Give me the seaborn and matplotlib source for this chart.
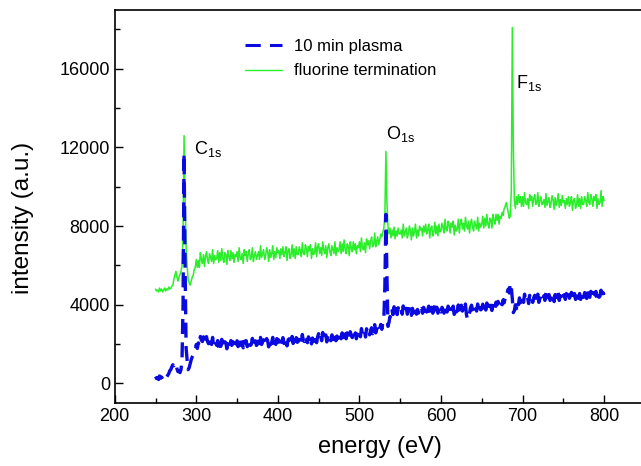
import numpy as np
import pandas as pd
import matplotlib
matplotlib.use("Agg")
import matplotlib.pyplot as plt
from matplotlib.ticker import MultipleLocator
from matplotlib.lines import Line2D
import seaborn as sns

# ---- data ----
energy = np.arange(250, 800.01, 1.25)

fluorine = [
    4800, 4700, 4750, 4650, 4850, 4700, 4800, 4650, 4750, 4850, 4700, 4800, 4750, 4900, 4800, 4850, 4950, 5000, 5300, 5500,
    5700, 5400, 5200, 5400, 5550, 5700, 6000, 7500, 12600, 9500, 7000, 6000, 5300, 5100, 5000, 5200, 5400, 5500, 5800, 5900,
    6300, 5900, 6250, 5900, 6650, 6300, 6100, 6550, 5950, 6450, 6700, 6300, 6100, 6600, 6400, 6200, 6800, 6100, 6500, 6300,
    6350, 6750, 6150, 6650, 6250, 6850, 6350, 6150, 6650, 6550, 6050, 6750, 6450, 6250, 6750, 6350, 6650, 6150, 6550, 6450,
    6700, 6200, 6900, 6400, 6300, 6600, 6100, 6800, 6500, 6700, 6200, 6600, 6800, 6300, 6400, 6900, 6200, 6500, 6700, 6300,
    6500, 6700, 6300, 7000, 6400, 6600, 6800, 6300, 6500, 6900, 6700, 6200, 6800, 6400, 6600, 7000, 6300, 6700, 6400, 6900,
    6650, 6750, 6350, 6850, 6550, 6950, 6450, 6650, 6950, 6250, 6750, 6850, 6350, 6550, 7050, 6450, 6850, 6350, 6950, 6550,
    6550, 6950, 6750, 6450, 7150, 6650, 6550, 7050, 6850, 6450, 6950, 6750, 7050, 6350, 6850, 6550, 6650, 7150, 6450, 6950,
    7100, 6600, 6900, 6500, 7200, 6800, 6600, 7000, 6400, 6900, 7100, 6700, 6500, 7000, 6800, 6600, 7200, 6500, 6900, 6700,
    6800, 7200, 6600, 7100, 6700, 7300, 6800, 6600, 7100, 7000, 6500, 7200, 6900, 6700, 7200, 6800, 7100, 6600, 7000, 6900,
    7200, 6700, 7400, 6900, 6800, 7150, 6650, 7350, 7050, 7250, 6850, 7250, 7450, 6950, 7050, 7650, 6950, 7250, 7450, 7050,
    7300, 7600, 7450, 7700, 7900, 8600, 11800, 9200, 8000, 7600, 7900, 7400, 7800, 7500, 7950, 7350, 7750, 7500, 7900, 7600,
    7600, 7800, 7400, 8100, 7500, 7700, 7900, 7400, 7600, 8000, 7800, 7300, 7900, 7500, 7700, 8100, 7400, 7800, 7500, 8000,
    7800, 7900, 7500, 8000, 7700, 8100, 7600, 7800, 8100, 7400, 7900, 8000, 7500, 7700, 8200, 7600, 8000, 7500, 8100, 7700,
    7750, 8150, 7950, 7650, 8350, 7850, 7750, 8250, 8050, 7650, 8150, 7950, 8250, 7550, 8050, 7750, 7850, 8350, 7650, 8150,
    8350, 7850, 8150, 7750, 8450, 8050, 7850, 8250, 7650, 8150, 8350, 7950, 7750, 8250, 8050, 7850, 8450, 7750, 8150, 7950,
    8100, 8500, 7900, 8400, 8000, 8600, 8100, 7900, 8400, 8300, 7900, 8600, 8300, 8100, 8600, 8300, 8600, 8100, 8500, 8400,
    8700, 8550, 8900, 9000, 9200, 8950, 8700, 8400, 8500, 9800, 18100, 12000, 9300, 8900, 9500, 9100, 9600, 9200, 9500, 9000,
    9500, 9000, 9700, 9200, 9100, 9400, 8900, 9600, 9300, 9500, 9000, 9400, 9600, 9100, 9200, 9700, 9000, 9300, 9500, 9100,
    9150, 9350, 8950, 9650, 9050, 9250, 9450, 8950, 9150, 9550, 9350, 8850, 9450, 9050, 9250, 9650, 8950, 9350, 9050, 9550,
    9200, 9300, 8900, 9400, 9100, 9500, 9000, 9200, 9500, 8800, 9300, 9400, 8900, 9100, 9600, 9000, 9400, 8900, 9500, 9100,
    9100, 9500, 9300, 9000, 9700, 9200, 9100, 9600, 9400, 9000, 9500, 9300, 9600, 8900, 9400, 9100, 9200, 9800, 9000, 9500,
    9300,
]

plasma = [
    350, 250, 300, 200, 380, 280, 320, 230, 350, 300, 400, 330, 420, 500, 650, 700, 850, 950, 900, 1050,
    1000, 750, 600, 650, 550, 700, 1200, 4000, 11700, 6000, 1800, 1200, 700, 800, 1000, 1200, 1350, 1450, 1600, 1700,
    1980, 1780, 2060, 1920, 2390, 2200, 2130, 2370, 2010, 2310, 2380, 2140, 2020, 2320, 2200, 1980, 2340, 1920, 2160, 2040,
    1940, 2180, 1820, 2120, 1880, 2240, 1940, 1820, 2120, 2060, 1760, 2180, 2000, 1880, 2180, 1940, 2120, 1820, 2060, 2000,
    2170, 1870, 2290, 1990, 1930, 2110, 1810, 2230, 2050, 2170, 1870, 2110, 2230, 1930, 1990, 2290, 1870, 2050, 2170, 1930,
    2040, 2160, 1920, 2340, 1980, 2100, 2220, 1920, 2040, 2280, 2160, 1860, 2220, 1980, 2100, 2340, 1920, 2160, 1980, 2280,
    2150, 2210, 1970, 2270, 2090, 2330, 2030, 2150, 2330, 1910, 2210, 2270, 1970, 2090, 2390, 2030, 2270, 1970, 2330, 2090,
    2130, 2370, 2250, 2070, 2490, 2190, 2130, 2430, 2310, 2070, 2370, 2250, 2430, 2010, 2310, 2130, 2190, 2490, 2070, 2370,
    2530, 2230, 2410, 2170, 2590, 2350, 2230, 2470, 2110, 2410, 2530, 2290, 2170, 2470, 2350, 2230, 2590, 2170, 2410, 2290,
    2390, 2630, 2270, 2570, 2330, 2690, 2390, 2270, 2570, 2510, 2210, 2630, 2450, 2330, 2630, 2390, 2570, 2270, 2510, 2450,
    2670, 2370, 2790, 2490, 2430, 2660, 2360, 2780, 2600, 2720, 2470, 2710, 2830, 2530, 2590, 2990, 2570, 2750, 2870, 2630,
    2800, 3000, 2750, 3100, 3300, 5000, 8600, 5500, 2900, 3100, 3400, 3300, 3700, 3500, 3900, 3550, 3800, 3500, 3850, 3600,
    3640, 3760, 3520, 3940, 3580, 3700, 3820, 3520, 3640, 3880, 3760, 3460, 3820, 3580, 3700, 3940, 3520, 3760, 3580, 3880,
    3750, 3810, 3570, 3870, 3690, 3930, 3630, 3750, 3930, 3510, 3810, 3870, 3570, 3690, 3990, 3630, 3870, 3570, 3930, 3690,
    3630, 3870, 3750, 3570, 3990, 3690, 3630, 3930, 3810, 3570, 3870, 3750, 3930, 3510, 3810, 3630, 3690, 3990, 3570, 3870,
    3980, 3680, 3860, 3620, 4040, 3500, 3250, 3300, 3560, 3860, 3980, 3740, 3620, 3920, 3800, 3680, 4040, 3620, 3860, 3740,
    3790, 4030, 3670, 3970, 3730, 4090, 3790, 3670, 3970, 3910, 3710, 4130, 3950, 3830, 4130, 3990, 4170, 3870, 4110, 4050,
    4000, 4250, 4100, 4350, 4300, 4600, 4800, 4600, 5100, 4900, 4300, 3600, 3700, 4000, 3800, 4200, 4000, 4350, 4100, 4400,
    4420, 4120, 4540, 4240, 4180, 4360, 4060, 4480, 4300, 4420, 4120, 4360, 4480, 4180, 4240, 4540, 4120, 4300, 4420, 4180,
    4340, 4460, 4220, 4640, 4280, 4400, 4520, 4220, 4340, 4580, 4460, 4160, 4520, 4280, 4400, 4640, 4220, 4460, 4280, 4580,
    4450, 4510, 4270, 4570, 4390, 4630, 4330, 4450, 4630, 4210, 4510, 4570, 4270, 4390, 4690, 4330, 4570, 4270, 4630, 4390,
    4380, 4620, 4500, 4320, 4740, 4440, 4380, 4680, 4560, 4320, 4620, 4500, 4680, 4260, 4560, 4380, 4440, 4740, 4320, 4620,
    4500,
]

assert len(fluorine) == len(energy), len(fluorine)
assert len(plasma) == len(energy), len(plasma)

series_names = ["10 min plasma", "fluorine termination"]
peak_labels = ["C", "O", "F"]
peak_x = [297, 533, 692]
peak_y = [11900, 12700, 15300]

x_ticks = [200, 300, 400, 500, 600, 700, 800]
y_ticks = [0, 4000, 8000, 12000, 16000]

# ---- styling ----
sns.set_style("ticks")
plt.rcParams["font.family"] = ["Liberation Sans", "DejaVu Sans"]
plt.rcParams["mathtext.default"] = "regular"
plt.rcParams["text.color"] = "black"
plt.rcParams["axes.labelcolor"] = "black"

blue = "#0a0ae0"
green = "#2aee2a"

fig = plt.figure(figsize=(6.41, 4.66), dpi=100)
ax = fig.add_axes([0.179, 0.135, 1.006 - 0.179, 0.979 - 0.135])

df_f = pd.DataFrame({"energy": energy, "intensity": fluorine})
df_p = pd.DataFrame({"energy": energy, "intensity": plasma})

sns.lineplot(data=df_f, x="energy", y="intensity", ax=ax, color=green,
             linewidth=1.1, zorder=2, estimator=None)
sns.lineplot(data=df_p, x="energy", y="intensity", ax=ax, color=blue,
             linewidth=2.4, zorder=3, estimator=None)
ax.lines[-1].set_dashes([4.5, 2.5])

ax.set_xlim(200, 850)
ax.set_ylim(-1000, 19000)
ax.set_xticks(x_ticks)
ax.set_yticks(y_ticks)
ax.xaxis.set_minor_locator(MultipleLocator(50))
ax.yaxis.set_minor_locator(MultipleLocator(2000))
ax.tick_params(axis="both", which="major", direction="in", length=6,
               width=1.0, labelsize=13, color="black", labelcolor="black")
ax.tick_params(axis="both", which="minor", direction="in", length=3.5,
               width=1.0, color="black")
for s in ax.spines.values():
    s.set_linewidth(1.2)
    s.set_color("black")

ax.set_xlabel("energy (eV)", fontsize=17, labelpad=8)
ax.set_ylabel("intensity (a.u.)", fontsize=17.5)
ax.yaxis.set_label_coords(-0.152, 0.47)

for lab, px, py in zip(peak_labels, peak_x, peak_y):
    ax.text(px, py, lab + r"$_{1s}$", fontsize=13, ha="left", va="center")

handles = [
    Line2D([], [], color=blue, linewidth=2.2, dashes=[5, 3]),
    Line2D([], [], color=green, linewidth=1.0),
]
leg = ax.legend(handles, series_names, loc="upper left",
                bbox_to_anchor=(0.218, 0.965), frameon=False, fontsize=12,
                handlelength=2.2, labelspacing=0.59, handletextpad=0.7)

fig.savefig("out.png", dpi=100)
